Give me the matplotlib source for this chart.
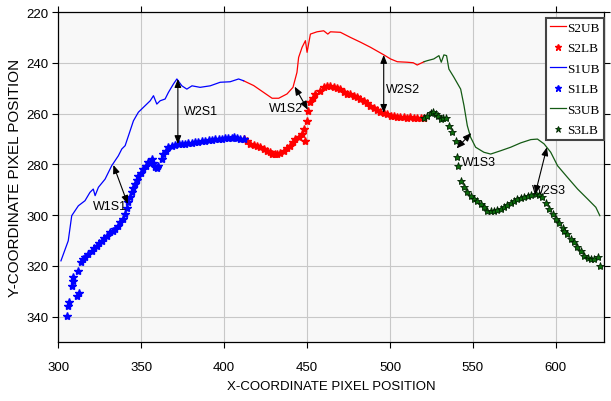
import matplotlib
matplotlib.use("Agg")
import matplotlib.pyplot as plt

# upper boundaries (lines)
s1ub_x = [301.6, 306.0, 308.1, 312.1, 316.1, 319.1, 321.1, 322.2, 324.2, 328.2, 332.2, 336.2,
          338.3, 340.3, 342.3, 345.3, 348.3, 352.4, 355.4, 357.4, 359.4, 361.4, 364.4, 366.4,
          369.4, 371.5, 374.5, 377.5, 380.6, 385.5, 391.6, 397.6, 403.6, 408.7, 411.7]
s1ub_y = [318.0, 310.1, 300.2, 296.3, 294.3, 291.0, 289.7, 292.3, 289.0, 285.8, 280.5, 276.6,
          273.9, 272.6, 268.7, 262.8, 259.4, 256.8, 254.9, 252.9, 256.2, 254.9, 254.2, 251.6,
          248.3, 246.3, 249.0, 250.3, 249.0, 249.6, 249.0, 247.6, 247.4, 246.3, 247.0]

s2ub_x = [411.7, 417.8, 423.8, 428.9, 432.9, 437.9, 441.5, 443.9, 444.9, 447.0, 449.0, 450.0,
          452.0, 456.0, 460.0, 462.5, 464.1, 470.1, 476.1, 482.2, 488.2, 496.3, 500.3, 504.4,
          510.4, 514.0, 516.4, 520.5]
s2ub_y = [247.0, 248.9, 251.6, 253.9, 253.9, 252.2, 249.6, 243.7, 237.8, 233.8, 231.2, 235.8,
          228.6, 227.7, 227.3, 228.6, 227.7, 227.9, 229.9, 231.8, 233.8, 236.8, 238.4, 239.5,
          239.7, 239.9, 240.8, 239.5]

s3ub_x = [520.5, 522.4, 526.4, 529.5, 530.9, 532.5, 534.1, 535.5, 538.5, 542.6, 544.6, 546.6,
          548.6, 551.6, 556.6, 560.7, 566.7, 572.8, 578.8, 584.9, 588.9, 592.9, 596.9, 601.0,
          607.0, 613.1, 619.1, 624.1, 626.5]
s3ub_y = [239.5, 239.1, 238.4, 237.1, 239.7, 236.8, 237.1, 242.4, 245.6, 250.3, 256.8, 264.7,
          269.3, 273.2, 275.2, 275.9, 274.6, 273.2, 271.5, 270.2, 270.0, 271.9, 275.2, 280.5,
          285.1, 289.7, 293.6, 296.9, 300.2]

# lower boundaries (markers)
s1lb_x = [305.1, 306.0, 306.5, 308.1, 308.6, 309.0, 311.1, 312.5, 312.1, 313.7, 315.0, 316.1,
          318.0, 320.2, 321.7, 323.2, 324.7, 326.2, 327.7, 329.2, 331.2, 332.7, 334.2, 335.8,
          337.3, 338.8, 340.3, 341.3, 342.3, 343.3, 344.3, 345.3, 346.3, 347.3, 348.3, 349.8,
          351.3, 352.8, 354.3, 356.4, 357.4, 358.4, 359.4, 360.4, 362.4, 363.4, 364.9, 366.4,
          368.4, 370.5, 372.5, 374.5, 376.5, 378.5, 380.5, 382.5, 384.5, 386.5, 388.6, 390.6,
          392.6, 394.6, 396.6, 398.6, 400.6, 402.6, 404.6, 405.7, 407.7, 409.7, 411.7]
s1lb_y = [339.7, 335.7, 334.4, 327.8, 325.8, 324.5, 331.8, 330.5, 322.0, 318.6, 317.4, 316.6,
          315.4, 314.0, 313.0, 312.0, 311.0, 310.1, 309.1, 308.1, 306.8, 306.2, 305.5, 304.2,
          302.8, 301.4, 299.6, 297.3, 295.0, 293.0, 291.0, 289.4, 287.7, 286.1, 284.5, 283.2,
          281.8, 280.5, 279.2, 277.9, 279.5, 281.1, 281.5, 280.5, 277.9, 275.9, 274.6, 273.3,
          272.8, 272.3, 272.1, 272.0, 271.9, 271.7, 271.5, 271.3, 271.0, 270.8, 270.6, 270.5,
          270.3, 270.1, 270.0, 269.8, 269.7, 269.5, 269.4, 269.3, 269.7, 270.0, 270.0]

s2lb_x = [411.7, 413.7, 415.7, 417.7, 419.8, 421.8, 423.8, 425.8, 427.4, 428.9, 430.4, 431.9,
          433.9, 435.9, 437.9, 439.9, 441.4, 442.9, 444.9, 447.0, 448.0, 449.0, 450.0, 450.4,
          452.0, 453.5, 455.0, 457.5, 460.0, 462.0, 464.1, 466.1, 468.1, 470.1, 472.1, 474.1,
          476.1, 478.1, 480.2, 482.2, 484.2, 486.2, 488.2, 490.2, 492.2, 494.2, 496.3, 498.3,
          500.3, 502.3, 504.3, 506.3, 508.3, 510.3, 512.3, 514.3, 516.4, 518.4, 520.5]
s2lb_y = [270.0, 270.9, 271.8, 272.4, 272.8, 273.3, 273.9, 274.6, 275.2, 275.9, 276.0, 275.9,
          275.3, 274.6, 273.6, 272.6, 271.3, 270.0, 269.3, 268.0, 266.0, 270.7, 262.8, 258.8,
          255.5, 253.8, 252.2, 250.9, 249.6, 249.2, 248.9, 249.3, 249.8, 250.3, 251.3, 252.2,
          252.2, 253.2, 253.6, 254.2, 255.1, 255.9, 256.8, 257.6, 258.4, 259.2, 259.7, 260.3,
          260.8, 261.0, 261.2, 261.4, 261.4, 261.5, 261.4, 261.5, 261.7, 261.6, 261.7]

s3lb_x = [520.5, 522.5, 524.5, 526.0, 527.5, 529.0, 530.5, 532.0, 533.5, 535.5, 537.6, 539.6,
          540.6, 541.0, 542.6, 544.6, 546.6, 548.6, 550.6, 552.6, 554.6, 556.6, 558.7, 560.7,
          562.7, 564.7, 566.7, 568.7, 570.8, 572.8, 574.8, 576.8, 578.8, 580.9, 582.9, 585.0,
          587.9, 589.9, 591.9, 593.9, 595.9, 598.0, 600.0, 602.0, 604.0, 605.0, 607.0, 609.0,
          611.0, 613.0, 615.1, 617.1, 619.1, 621.2, 623.2, 625.2, 626.5]
s3lb_y = [261.7, 261.0, 259.7, 259.4, 260.1, 261.0, 262.1, 261.6, 261.8, 264.7, 267.3, 270.6,
          277.2, 280.5, 286.4, 289.0, 291.0, 292.6, 293.6, 294.6, 295.6, 296.9, 298.3, 298.5,
          298.2, 297.9, 297.6, 296.9, 296.0, 295.2, 294.3, 293.8, 293.3, 292.8, 292.4, 292.0,
          291.7, 292.2, 293.0, 295.2, 297.6, 299.6, 301.5, 303.2, 304.9, 306.1, 307.6, 309.2,
          310.7, 312.4, 314.2, 316.0, 316.8, 317.3, 317.1, 316.6, 320.0]

# arrows: (start x, start y, end x, end y), labels: (text, x, y, ha)
arrows = [(333.2, 280.2, 341.9, 295.6), (372.1, 246.3, 372.1, 272.0),
          (442.5, 249.3, 450.4, 258.4), (496.2, 236.8, 496.2, 259.7),
          (540.1, 273.7, 549.0, 267.6), (594.6, 273.2, 587.5, 291.7)]
labels = [("W1S1", 331.2, 296.3, "center"), ("W2S1", 375.5, 258.8, "left"),
          ("W1S2", 437.5, 257.9, "center"), ("W2S2", 497.3, 250.3, "left"),
          ("W1S3", 543.6, 279.2, "left"), ("W2S3", 585.3, 290.1, "left")]

sans = "Liberation Sans"

fig = plt.figure(figsize=(6.11, 4.02), dpi=100)
ax = fig.add_axes([0.0954, 0.1468, 0.8931, 0.8202])
ax.set_facecolor("#f8f8f8")

green = "#145a14"
ax.plot(s2ub_x, s2ub_y, color="#ff0000", lw=0.9, label="S2UB")
ax.plot(s2lb_x, s2lb_y, ls="none", marker="*", ms=6, color="#ff0000", mec="#ff0000", label="S2LB")
ax.plot(s1ub_x, s1ub_y, color="#0000ff", lw=0.9, label="S1UB")
ax.plot(s1lb_x, s1lb_y, ls="none", marker="*", ms=6, color="#0000ff", mec="#0000ff", label="S1LB")
ax.plot(s3ub_x, s3ub_y, color=green, lw=0.9, label="S3UB")
ax.plot(s3lb_x, s3lb_y, ls="none", marker="*", ms=6, color="#0b6b0b", mec="#002200", mew=0.6,
        label="S3LB")

for x0, y0, x1, y1 in arrows:
    ax.annotate("", xy=(x1, y1), xytext=(x0, y0),
                arrowprops=dict(arrowstyle="<|-|>,head_length=0.5,head_width=0.2",
                                color="black", lw=0.8, mutation_scale=10,
                                shrinkA=0, shrinkB=0))
for txt, x, y, ha in labels:
    ax.text(x, y, txt, ha=ha, va="center", fontsize=9, family=sans, color="black")

ax.set_xlim(300, 629)
ax.set_ylim(350, 220)
ax.set_xticks([300, 350, 400, 450, 500, 550, 600])
ax.set_yticks([220, 240, 260, 280, 300, 320, 340])
ax.grid(True, color="#c8c8c8", lw=0.8)
ax.set_axisbelow(True)
ax.tick_params(direction="out", length=4, width=0.8, top=True, right=True,
               labeltop=False, labelright=False, labelsize=9.5)
ax.tick_params(axis="x", pad=10)
ax.tick_params(axis="y", pad=3)
for lab in ax.get_xticklabels() + ax.get_yticklabels():
    lab.set_family(sans)
for s in ax.spines.values():
    s.set_linewidth(0.9)

ax.set_xlabel("X-COORDINATE PIXEL POSITION", family=sans, fontsize=9.5, labelpad=5)
ax.set_ylabel("Y-COORDINATE PIXEL POSITION", family=sans, fontsize=11, labelpad=3)

leg = ax.legend(loc="upper right", bbox_to_anchor=(1.0, 0.983), borderaxespad=0,
                prop={"family": "Liberation Serif", "size": 9.5}, handlelength=1.2,
                handletextpad=0.1, labelspacing=0.62, borderpad=0.3, fancybox=False,
                framealpha=1, markerscale=0.8)
leg.get_frame().set_edgecolor("#444444")
leg.get_frame().set_linewidth(1.5)

fig.savefig("out.png", dpi=100)
